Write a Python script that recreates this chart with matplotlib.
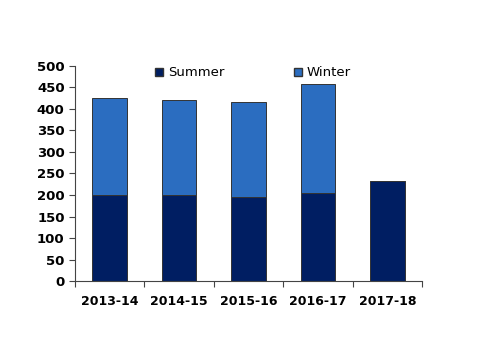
import numpy as np
import matplotlib.pyplot as plt
from matplotlib.patches import Patch

seasons = ['2013-14', '2014-15', '2015-16', '2016-17', '2017-18']
summer = [201, 200, 195, 204, 233]
winter = [224, 220, 221, 253, 0]

summer_color = '#001E62'
winter_color = '#2B6DC0'
edge_color = '#333333'

fig = plt.figure(figsize=(5, 3.54), dpi=100)
ax = fig.add_axes([0.15, 0.206, 0.694, 0.608])

x = np.arange(len(seasons))
ax.bar(x, summer, width=0.5, color=summer_color, edgecolor=edge_color, linewidth=0.7)
ax.bar(x, winter, width=0.5, bottom=summer, color=winter_color, edgecolor=edge_color, linewidth=0.7)

ax.set_xlim(-0.5, len(seasons) - 0.5)
ax.set_ylim(0, 500)
ax.set_yticks(np.arange(0, 501, 50))
ax.set_xticks(np.arange(-0.5, len(seasons), 1))
ax.set_xticklabels([])
ax.set_xticks(x, minor=True)
ax.set_xticklabels(seasons, minor=True, fontweight='bold', fontsize=9)
ax.tick_params(axis='x', which='minor', length=0, pad=10)
ax.tick_params(axis='x', which='major', length=4, direction='out', color='#444444')
ax.tick_params(axis='y', length=4, direction='out', labelsize=9.5, color='#444444')
for lbl in ax.get_yticklabels():
    lbl.set_fontweight('bold')

ax.spines['top'].set_visible(False)
ax.spines['right'].set_visible(False)
ax.spines['left'].set_color('#444444')
ax.spines['bottom'].set_color('#444444')

handles = [Patch(facecolor=summer_color, edgecolor=edge_color),
           Patch(facecolor=winter_color, edgecolor=edge_color)]
fig.legend(handles, ['Summer', 'Winter'], loc='center', bbox_to_anchor=(0.506, 0.794),
           ncol=2, frameon=False, fontsize=9.5, columnspacing=5.3,
           handlelength=0.6, handleheight=0.6, handletextpad=0.35)

fig.savefig('out.png', dpi=100)
